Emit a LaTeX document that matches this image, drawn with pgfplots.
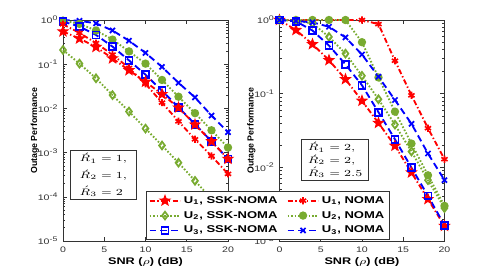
\documentclass[border=0pt]{standalone}
\usepackage{pgfplots}
\pgfplotsset{compat=1.18}
\usepackage{graphicx}
\usepackage{fontspec}
\setmainfont{Liberation Sans}
\newcommand{\w}[1]{\scalebox{1.32}[1]{#1}}
\definecolor{mgreen}{rgb}{0.47,0.67,0.19}
\pgfdeclareplotmark{pentagram}{%
  \pgfpathmoveto{\pgfpointpolar{90}{\pgfplotmarksize}}%
  \pgfpathlineto{\pgfpointpolar{126}{0.42\pgfplotmarksize}}%
  \pgfpathlineto{\pgfpointpolar{162}{\pgfplotmarksize}}%
  \pgfpathlineto{\pgfpointpolar{198}{0.42\pgfplotmarksize}}%
  \pgfpathlineto{\pgfpointpolar{234}{\pgfplotmarksize}}%
  \pgfpathlineto{\pgfpointpolar{270}{0.42\pgfplotmarksize}}%
  \pgfpathlineto{\pgfpointpolar{306}{\pgfplotmarksize}}%
  \pgfpathlineto{\pgfpointpolar{342}{0.42\pgfplotmarksize}}%
  \pgfpathlineto{\pgfpointpolar{18}{\pgfplotmarksize}}%
  \pgfpathlineto{\pgfpointpolar{54}{0.42\pgfplotmarksize}}%
  \pgfpathclose
  \pgfusepathqfillstroke
}
\pgfplotsset{
  myax/.style={
    scale only axis, width=123.75pt, height=165.75pt,
    xmin=0, xmax=20, xtick={0,5,10,15,20},
    xticklabels={\w{0},\w{5},\w{10},\w{15},\w{20}},
    tick label style={font=\fontsize{6}{6.5}\selectfont, text=black!80},
    axis line style={black!80, line width=0.5pt},
    major tick length=3pt, minor tick length=1.6pt,
    every tick/.style={black!80, line width=0.4pt},
    xlabel={\w{\textbf{SNR ($\rho$) (dB)}}},
    xlabel style={font=\fontsize{7.2}{8}\selectfont, at={(axis description cs:0.5,-0.094)}, anchor=center},
    ylabel={\textbf{Outage Performance}},
    ylabel style={font=\fontsize{6.6}{7}\selectfont, at={(axis description cs:-0.17,0.5)}, anchor=center},
    xticklabel style={yshift=-1pt},
    clip=false,
    legend image code/.code={\draw[mark repeat=2,mark phase=2] plot coordinates {(0pt,0pt) (11.5pt,0pt) (23pt,0pt)};},
  },
  s1/.style={red, line width=1.4pt, dash pattern=on 4pt off 1.8pt on 1pt off 1.8pt, mark=pentagram, mark size=3.8pt, mark options={solid, fill=red, line width=0.8pt}},
  n1/.style={red, line width=1.4pt, dash pattern=on 4pt off 1.8pt on 1pt off 1.8pt, mark=asterisk, mark size=2.7pt, mark options={solid, line width=1.2pt}},
  s2/.style={mgreen, line width=1.4pt, dash pattern=on 1.2pt off 1.4pt, mark=diamond, mark size=2.9pt, mark options={solid, fill=white, line width=1.3pt}},
  n2/.style={mgreen, line width=1.4pt, dash pattern=on 1.2pt off 1.4pt, mark=*, mark size=2.4pt, mark options={solid, fill=mgreen}},
  s3/.style={blue, line width=1.4pt, dash pattern=on 5pt off 3pt, mark=square, mark size=2.6pt, mark options={solid, fill=white, line width=1.3pt}},
  n3/.style={blue, line width=1.4pt, dash pattern=on 5pt off 3pt, mark=x, mark size=2.7pt, mark options={solid, line width=1.3pt}},
}
\begin{document}
\begin{tikzpicture}
\useasboundingbox (0,0) rectangle (368.25pt,204.75pt);
% ---------------- left panel ----------------
\begin{axis}[ymode=log, myax, at={(47.25pt,24pt)}, anchor=south west,
  ymin=1e-5, ymax=1,
  ytick={1e-5,1e-4,1e-3,1e-2,1e-1,1},
  yticklabels={\w{10\textsuperscript{-5}},\w{10\textsuperscript{-4}},\w{10\textsuperscript{-3}},\w{10\textsuperscript{-2}},\w{10\textsuperscript{-1}},\w{10\textsuperscript{0}}},
  minor ytick={2e-5,3e-5,4e-5,5e-5,6e-5,7e-5,8e-5,9e-5,2e-4,3e-4,4e-4,5e-4,6e-4,7e-4,8e-4,9e-4,2e-3,3e-3,4e-3,5e-3,6e-3,7e-3,8e-3,9e-3,2e-2,3e-2,4e-2,5e-2,6e-2,7e-2,8e-2,9e-2,0.2,0.3,0.4,0.5,0.6,0.7,0.8,0.9},
]
\addplot[n3] coordinates {(0,1.0) (2,0.96) (4,0.84) (6,0.58) (8,0.34) (10,0.18) (12,0.087) (14,0.038) (16,0.0177) (18,0.0069) (20,0.0029)};
\addplot[n2] coordinates {(0,0.97) (2,0.82) (4,0.58) (6,0.36) (8,0.195) (10,0.103) (12,0.044) (14,0.0184) (16,0.0078) (18,0.0032) (20,0.0013)};
\addplot[s3] coordinates {(0,0.92) (2,0.71) (4,0.46) (6,0.25) (8,0.122) (10,0.058) (12,0.025) (14,0.0106) (16,0.0044) (18,0.0018) (20,0.00072)};
\addplot[n1] coordinates {(0,0.80) (2,0.51) (4,0.30) (6,0.165) (8,0.082) (10,0.036) (12,0.0135) (14,0.0051) (16,0.0020) (18,0.00084) (20,0.00033)};
\addplot[s1] coordinates {(0,0.55) (2,0.38) (4,0.245) (6,0.135) (8,0.073) (10,0.040) (12,0.021) (14,0.0104) (16,0.0043) (18,0.0018) (20,0.00072)};
\addplot[s2] coordinates {(0,0.21) (2,0.103) (4,0.048) (6,0.020) (8,0.0085) (10,0.0035) (12,0.00145) (14,0.00059) (16,0.00023) (18,0.00009) (20,0.000035)};
\node[draw=black!80, fill=white, line width=0.5pt, minimum width=50pt, minimum height=37pt, align=left, inner sep=2pt, font=\fontsize{7}{12.5}\selectfont]
  at (rel axis cs:0.245,0.30) {\w{$\acute{R}_1=1,$}\\ \w{$\acute{R}_2=1,$}\\ \w{$\acute{R}_3=2$}};
\end{axis}
% ---------------- right panel ----------------
\begin{axis}[ymode=log, myax, at={(209.6pt,24pt)}, anchor=south west,
  ymin=1e-3, ymax=1,
  ytick={1e-3,1e-2,1e-1,1},
  yticklabels={\w{10\textsuperscript{-3}},\w{10\textsuperscript{-2}},\w{10\textsuperscript{-1}},\w{10\textsuperscript{0}}},
  minor ytick={2e-3,3e-3,4e-3,5e-3,6e-3,7e-3,8e-3,9e-3,2e-2,3e-2,4e-2,5e-2,6e-2,7e-2,8e-2,9e-2,0.2,0.3,0.4,0.5,0.6,0.7,0.8,0.9},
  legend columns=2,
  legend cell align=left,
  legend style={at={(rel axis cs:0.666,0.005)}, anchor=south east, draw=black!80, fill=white, line width=0.5pt,
    font=\fontsize{7.4}{9}\selectfont\bfseries, inner sep=1.5pt, row sep=0.5pt,
    /tikz/every even column/.append style={column sep=5pt}},
]
\addplot[s1] coordinates {(0,1.0) (2,0.73) (4,0.47) (6,0.285) (8,0.157) (10,0.080) (12,0.040) (14,0.0196) (16,0.0085) (18,0.0037) (20,0.0016)};
\addlegendentry{\w{U\textsubscript{1}, SSK-NOMA}}
\addplot[n1] coordinates {(0,1) (2,1) (4,1) (6,1) (8,1) (10,1) (12,0.88) (14,0.28) (16,0.095) (18,0.034) (20,0.0129)};
\addlegendentry{\w{U\textsubscript{1}, NOMA}}
\addplot[s2] coordinates {(0,1.0) (2,0.97) (4,0.90) (6,0.59) (8,0.35) (10,0.175) (12,0.084) (14,0.038) (16,0.0164) (18,0.0067) (20,0.0028)};
\addlegendentry{\w{U\textsubscript{2}, SSK-NOMA}}
\addplot[n2] coordinates {(0,1) (2,1) (4,1) (6,1) (8,1) (10,0.50) (12,0.166) (14,0.057) (16,0.021) (18,0.0078) (20,0.0030)};
\addlegendentry{\w{U\textsubscript{2}, NOMA}}
\addplot[s3] coordinates {(0,1.0) (2,0.96) (4,0.72) (6,0.45) (8,0.25) (10,0.13) (12,0.056) (14,0.024) (16,0.0099) (18,0.0041) (20,0.00164)};
\addlegendentry{\w{U\textsubscript{3}, SSK-NOMA}}
\addplot[n3] coordinates {(0,1.0) (2,0.97) (4,0.93) (6,0.81) (8,0.58) (10,0.34) (12,0.17) (14,0.082) (16,0.039) (18,0.0154) (20,0.0067)};
\addlegendentry{\w{U\textsubscript{3}, NOMA}}
\node[draw=black!80, fill=white, line width=0.5pt, minimum width=50pt, minimum height=29pt, align=left, inner sep=2pt, font=\fontsize{7}{9.5}\selectfont]
  at (rel axis cs:0.337,0.368) {\w{$\acute{R}_1=2,$}\\ \w{$\acute{R}_2=2,$}\\ \w{$\acute{R}_3=2.5$}};
\end{axis}
\end{tikzpicture}
\end{document}
